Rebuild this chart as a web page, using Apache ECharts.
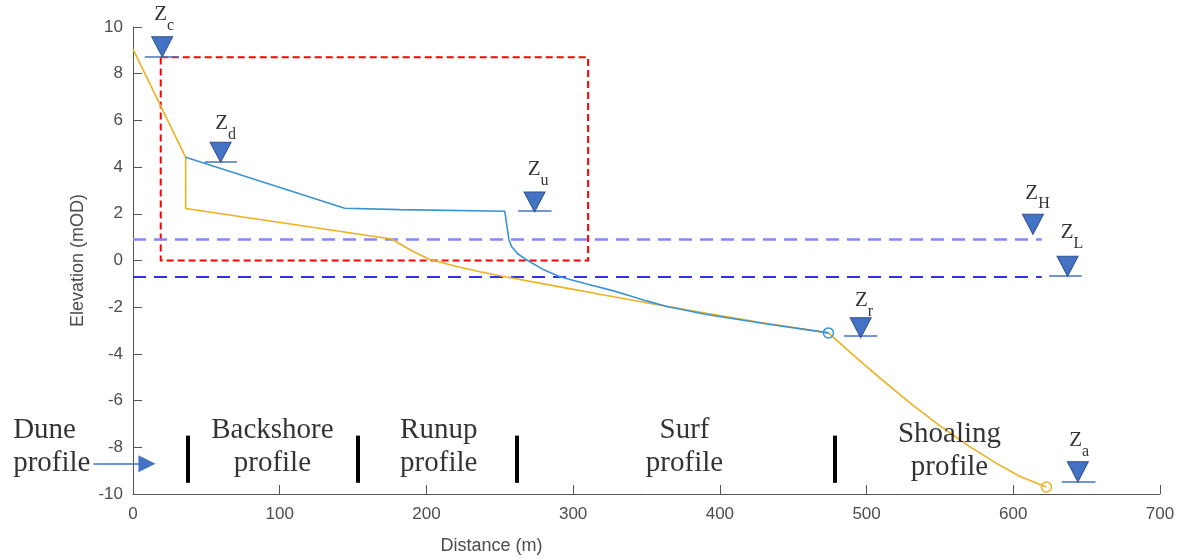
<!DOCTYPE html>
<html><head><meta charset="utf-8">
<script src="https://cdn.jsdelivr.net/npm/echarts@6/dist/echarts.min.js"></script>
<style>html,body{margin:0;padding:0;background:#fff}#c{width:1182px;height:560px}</style>
</head><body><div id="c"></div>
<script>
// Axis ranges [min, max, interval]
const distanceRange = [0, 700, 100];
const elevationRange = [-10, 10, 2];

// Pre-storm profile (orange) [distance, elevation]
const preProfile = [[0,9.05],[35.9,4.42],[35.9,2.23],[176.2,0.92],[190,0.42],[202.3,0.04],[220,-0.25],[236.4,-0.48],[254.6,-0.71],[290,-1.12],[320,-1.47],[350,-1.81],[395,-2.3],[430,-2.68],[474,-3.1],[490,-4.0],[510,-5.08],[530,-6.12],[550,-7.08],[570,-7.96],[590,-8.74],[605,-9.26],[622.6,-9.7]];
// Post-storm profile (blue)
const postProfile = [[35.9,4.42],[144.3,2.24],[181.9,2.18],[253.4,2.11],[256.2,0.9],[258,0.6],[262,0.3],[268.2,0.03],[280,-0.4],[290.9,-0.7],[310,-1.02],[327,-1.29],[338.6,-1.51],[350,-1.73],[363.8,-1.97],[391.1,-2.31],[430,-2.7],[474,-3.1]];
// End-point circles
const blueCircle = [[474,-3.1]];
const orangeCircle = [[622.6,-9.7]];

// Water levels
const highWater = 0.92;
const lowWater = -0.7;
const waterLineEnd = 619.4;

// Red dashed box [x0, y0, x1, y1]
const boxCorners = [18.9, 8.7, 310.2, 0];

// Elevation markers
const markerNames = ['c','d','u','r','H','L','a'];
const markerCenters = [[19.9,9.15],[59.7,4.64],[273.7,2.51],[496.0,-2.88],[613.4,1.55],[637.0,-0.25],[644.0,-9.05]];
const markerLabelPos = [[21.3,10.28],[63.1,5.62],[276.1,3.67],[498.3,-1.95],[616.5,2.65],[640.0,0.95],[644.9,-7.95]];
const markerBaseLines = [[8.0,31.4,8.73],[48.9,70.9,4.25],[262.5,285.3,2.14],[484.6,507.3,-3.24],[624.5,646.6,-0.66],[633.0,656.0,-9.48]];

// Zone separators and labels
const zoneBounds = [37.5, 153.3, 261.9, 478.1];
const zoneBarRange = [-7.5, -9.52];
const zoneNames = ['Dune\nprofile','Backshore\nprofile','Runup\nprofile','Surf\nprofile','Shoaling\nprofile'];
const zoneLabelPos = [[-81.7,-7.97],[95.0,-7.97],[208.4,-7.97],[375.9,-7.97],[556.5,-8.15]];
const duneArrow = [[-26.9,-8.7],[9.5,-8.7]];

const serif = "'Liberation Serif','Times New Roman',serif";
const sans = "'Liberation Sans',Arial,sans-serif";
const axisColor = '#555555';
const labelColor = '#4d4d4d';

const chart = echarts.init(document.getElementById('c'), null, {renderer:'canvas'});

const option = {
  backgroundColor: '#ffffff',
  animation: false,
  grid: {left: 133, right: 22, top: 27, bottom: 62, containLabel: false},
  xAxis: {
    type: 'value', min: distanceRange[0], max: distanceRange[1], interval: distanceRange[2],
    name: 'Distance (m)', nameLocation: 'middle', nameGap: 43,
    nameTextStyle: {fontFamily: sans, fontSize: 18, color: labelColor, padding: [0, 310, 0, 0]},
    axisLine: {show: true, onZero: false, lineStyle: {color: axisColor, width: 1}},
    axisTick: {show: true, inside: true, length: 9, lineStyle: {color: axisColor}},
    axisLabel: {fontFamily: sans, fontSize: 17, color: labelColor, margin: 12},
    splitLine: {show: false}
  },
  yAxis: {
    type: 'value', min: elevationRange[0], max: elevationRange[1], interval: elevationRange[2],
    name: 'Elevation (mOD)', nameLocation: 'middle', nameGap: 42,
    nameTextStyle: {fontFamily: sans, fontSize: 18, color: labelColor},
    axisLine: {show: true, onZero: false, lineStyle: {color: axisColor, width: 1}},
    axisTick: {show: true, inside: true, length: 9, lineStyle: {color: axisColor}},
    axisLabel: {fontFamily: sans, fontSize: 17, color: labelColor, margin: 10},
    splitLine: {show: false}
  },
  series: [
    {
      type: 'lines', coordinateSystem: 'cartesian2d', polyline: true, silent: true, clip: false, z: 2,
      data: [{coords: [[boxCorners[0],boxCorners[1]],[boxCorners[2],boxCorners[1]],[boxCorners[2],boxCorners[3]],[boxCorners[0],boxCorners[3]],[boxCorners[0],boxCorners[1]]]}],
      lineStyle: {color: '#ff0000', width: 2, type: [7, 4], opacity: 1}
    },
    {
      type: 'lines', coordinateSystem: 'cartesian2d', silent: true, z: 2,
      data: [{coords: [[0, highWater],[waterLineEnd, highWater]]}],
      lineStyle: {color: '#8585ff', width: 2.5, type: [13, 8], opacity: 1}
    },
    {
      type: 'lines', coordinateSystem: 'cartesian2d', silent: true, z: 2,
      data: [{coords: [[0, lowWater],[waterLineEnd, lowWater]]}],
      lineStyle: {color: '#2f2ff0', width: 2, type: [13, 8], opacity: 1}
    },
    {
      type: 'line', data: preProfile, showSymbol: false, symbol: 'none', smooth: false, z: 3,
      lineStyle: {color: '#EDB120', width: 1.6}
    },
    {
      type: 'line', data: postProfile, showSymbol: false, symbol: 'none', smooth: false, z: 4,
      lineStyle: {color: '#3a93d3', width: 1.6}
    },
    {
      type: 'scatter', data: blueCircle, symbol: 'circle', symbolSize: 10, z: 5, clip: false,
      itemStyle: {color: 'rgba(255,255,255,0)', borderColor: '#3a93d3', borderWidth: 1.5, opacity: 1}
    },
    {
      type: 'scatter', data: orangeCircle, symbol: 'circle', symbolSize: 10, z: 5, clip: false,
      itemStyle: {color: 'rgba(255,255,255,0)', borderColor: '#EDB120', borderWidth: 1.5, opacity: 1}
    },
    {
      type: 'lines', coordinateSystem: 'cartesian2d', silent: true, clip: false, z: 5,
      data: markerBaseLines.map(b => ({coords: [[b[0], b[2]], [b[1], b[2]]]})),
      lineStyle: {color: '#4472C4', width: 1.5, opacity: 1}
    },
    {
      type: 'scatter', clip: false, z: 6,
      data: markerCenters.map((p, i) => ({value: p, name: markerNames[i]})),
      symbol: 'triangle', symbolRotate: 180, symbolSize: [21, 20],
      itemStyle: {color: '#4472C4', borderColor: '#2F528F', borderWidth: 1, opacity: 1}
    },
    {
      type: 'scatter', clip: false, z: 7, symbolSize: 1,
      data: markerLabelPos.map((p, i) => ({value: p, name: markerNames[i]})),
      itemStyle: {color: 'rgba(0,0,0,0)'},
      label: {
        show: true, position: 'inside',
        formatter: p => '{z|Z}{s|' + p.name + '}',
        rich: {
          z: {fontFamily: serif, fontSize: 21, color: '#000', padding: [0, 0, 11, 0]},
          s: {fontFamily: serif, fontSize: 16, color: '#000', padding: [11, 0, 0, 0]}
        }
      }
    },
    {
      type: 'lines', coordinateSystem: 'cartesian2d', silent: true, clip: false, z: 5,
      data: zoneBounds.map(x => ({coords: [[x, zoneBarRange[0]], [x, zoneBarRange[1]]]})),
      lineStyle: {color: '#000000', width: 4, opacity: 1}
    },
    {
      type: 'lines', coordinateSystem: 'cartesian2d', silent: true, clip: false, z: 5,
      data: [{coords: duneArrow}],
      symbol: ['none', 'triangle'], symbolSize: [17, 17],
      lineStyle: {color: '#4472C4', width: 1.5, opacity: 1},
      itemStyle: {color: '#4472C4'}
    },
    {
      type: 'scatter', clip: false, z: 7, symbolSize: 1,
      data: zoneLabelPos.map((p, i) => ({value: p, name: zoneNames[i]})),
      itemStyle: {color: 'rgba(0,0,0,0)'},
      label: {
        show: true, position: 'inside',
        formatter: p => p.name,
        fontFamily: serif, fontSize: 29, lineHeight: 33, color: '#000',
        align: 'center'
      }
    }
  ]
};
// Dune label is left-aligned
option.series[option.series.length - 1].data[0].label = {align: 'left'};
chart.setOption(option);
</script>
</body></html>
